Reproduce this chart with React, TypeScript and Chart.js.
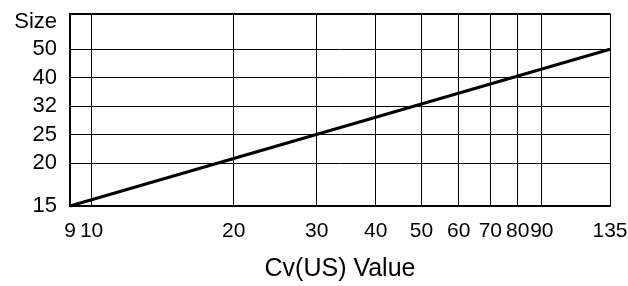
import { useEffect, useRef } from 'react';
import { Chart, registerables } from 'chart.js';
Chart.register(...registerables);

// Data
const cvTicks = [9, 10, 20, 30, 40, 50, 60, 70, 80, 90, 135];
const sizeTicks = [15, 20, 25, 32, 40, 50];
const sizeAxisLabel = 'Size';
const xAxisTitle = 'Cv(US) Value';
const lineCv = [9, 135];
const lineSize = [15, 50];

// Scale definitions (nomograph style axes)
const xWarp = (v: number) =>
  v <= 90 ? Math.log10(v) : Math.log10(90) + 0.82 * (Math.log10(v) - Math.log10(90));
const yPos = (s: number) => {
  const i = sizeTicks.indexOf(s);
  return i <= 0 ? 0 : i + 0.5;
};
const Y_LABEL_POS = sizeTicks.length + 0.45;
const Y_MAX = sizeTicks.length + 0.75;

const FONT = '"Liberation Sans", Arial, sans-serif';
const near = (a: number, b: number) => Math.abs(a - b) < 1e-9;

export default function App() {
  const ref = useRef<HTMLCanvasElement>(null);
  useEffect(() => {
    const xTickVals = cvTicks.map(xWarp);
    const yTickVals = [...sizeTicks.map(yPos), Y_LABEL_POS, Y_MAX];
    const chart = new Chart(ref.current!, {
      type: 'line',
      data: {
        datasets: [
          {
            data: lineCv.map((c, i) => ({ x: xWarp(c), y: yPos(lineSize[i]) })),
            borderColor: '#000',
            borderWidth: 3,
            pointRadius: 0,
            fill: false,
            tension: 0,
            clip: false as any,
          },
        ],
      },
      options: {
        animation: false,
        responsive: true,
        maintainAspectRatio: false,
        layout: { padding: { left: 0, right: 0, top: 11, bottom: 0 } },
        plugins: { legend: { display: false }, tooltip: { enabled: false } },
        scales: {
          x: {
            type: 'linear',
            min: xWarp(cvTicks[0]),
            max: xWarp(cvTicks[cvTicks.length - 1]),
            afterBuildTicks: (s: any) => {
              s.ticks = xTickVals.map((v) => ({ value: v }));
            },
            afterFit: (s: any) => {
              s.height = 80;
              s.paddingRight = 18;
              s.paddingLeft = 0;
            },
            ticks: {
              autoSkip: false,
              maxRotation: 0,
              minRotation: 0,
              padding: 13,
              color: '#000',
              font: { family: FONT, size: 21 },
              callback: (v: any) => {
                const i = xTickVals.findIndex((t) => near(t, v));
                return i >= 0 ? String(cvTicks[i]) : '';
              },
            },
            grid: { color: '#000', lineWidth: 1, drawTicks: false },
            border: { color: '#000', width: 2 },
            title: {
              display: true,
              text: xAxisTitle,
              color: '#000',
              font: { family: FONT, size: 25 },
              padding: { top: 0, bottom: 2 },
            },
          },
          y: {
            type: 'linear',
            min: 0,
            max: Y_MAX,
            afterBuildTicks: (s: any) => {
              s.ticks = yTickVals.map((v) => ({ value: v }));
            },
            afterFit: (s: any) => {
              s.width = 70;
            },
            ticks: {
              autoSkip: false,
              padding: 13,
              color: '#000',
              font: (ctx: any) => ({
                family: FONT,
                size: ctx.tick && near(ctx.tick.value, Y_MAX) ? 1 : 22,
              }),
              callback: (v: any) => {
                if (near(v, Y_LABEL_POS)) return sizeAxisLabel;
                const i = sizeTicks.findIndex((s) => near(yPos(s), v));
                return i >= 0 ? String(sizeTicks[i]) : '';
              },
            },
            grid: {
              drawTicks: false,
              lineWidth: (ctx: any) => (ctx.tick && near(ctx.tick.value, Y_MAX) ? 2 : 1),
              color: (ctx: any) =>
                ctx.tick && near(ctx.tick.value, Y_LABEL_POS) ? 'rgba(0,0,0,0)' : '#000',
            },
            border: { color: '#000', width: 2 },
          },
        },
      },
    } as any);
    return () => chart.destroy();
  }, []);
  return (
    <div style={{ position: 'fixed', left: 0, top: 0, width: 628, height: 286, background: '#fff' }}>
      <canvas ref={ref} />
    </div>
  );
}
